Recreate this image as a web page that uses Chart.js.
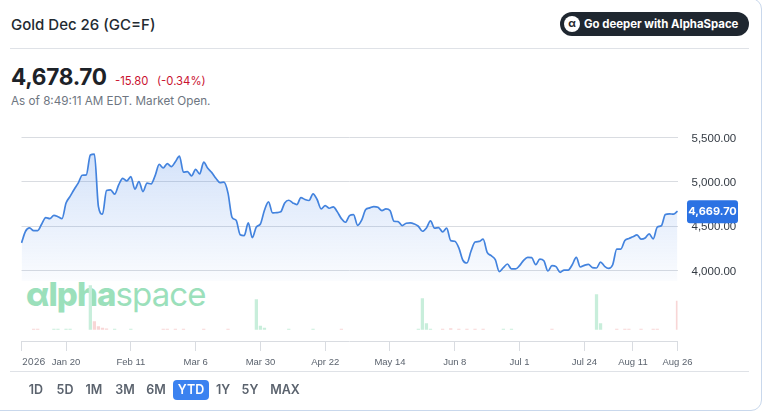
<!DOCTYPE html>
<html>
<head>
<meta charset="utf-8">
<title>Gold Dec 26 (GC=F)</title>
<script src="https://cdn.jsdelivr.net/npm/chart.js@4"></script>
<style>
  html, body { margin: 0; padding: 0; background: #fff; }
  body { width: 763px; height: 412px; overflow: hidden; position: relative; font-family: Inter, "Liberation Sans", sans-serif; }
  .card { position: absolute; left: -12px; top: -2px; width: 772px; height: 411px; border: 1px solid #c9d8ec; border-radius: 11px; }
  .abs { position: absolute; white-space: nowrap; }
  .rule { position: absolute; left: 10px; width: 739px; height: 1px; background: #dfe2e7; }
  #title { left: 11px; top: 15px; font-size: 15px; line-height: 20px; font-weight: 500; color: #232a31; }
  #price { left: 11px; top: 62px; font-size: 22.6px; line-height: 30px; font-weight: 700; color: #1d2228; letter-spacing: -0.3px; }
  .chg { top: 73px; font-size: 11.3px; line-height: 16px; color: #c9102f; }
  #asof { left: 11px; top: 94px; font-size: 11.7px; line-height: 15px; color: #6e7681; }
  #deeper { left: 560px; top: 12px; width: 189px; height: 24px; background: #1f2730; border-radius: 12px; }
  #alpha { left: 4px; top: 4px; width: 16px; height: 16px; border-radius: 8px; background: #fff; color: #1f2730; font-size: 11px; line-height: 15px; text-align: center; font-weight: 700; }
  #deeperText { left: 24px; top: 4px; font-size: 11.4px; line-height: 16px; font-weight: 700; color: #fff; }
  #mark { left: 26px; top: 270px; font-size: 33px; line-height: 48px; color: #9be0bb; font-weight: 400; letter-spacing: -0.9px; }
  #mark b { font-weight: 800; }
  canvas { position: absolute; left: 0; top: 0; }
  .range { top: 382px; font-size: 12.5px; line-height: 16px; font-weight: 600; color: #5b636e; transform: translateX(-50%); }
  #ytdBox { left: 173px; top: 380px; width: 36px; height: 20px; background: #3b82f0; border-radius: 4px; }
</style>
</head>
<body>
<div class="card"></div>
<div class="abs" id="title">Gold Dec 26 (GC=F)</div>
<div class="abs" id="deeper">
  <div class="abs" id="alpha">α</div>
  <div class="abs" id="deeperText">Go deeper with AlphaSpace</div>
</div>
<div class="rule" style="top:48px"></div>
<div class="abs" id="price">4,678.70</div>
<div class="abs chg" style="left:115px">-15.80</div>
<div class="abs chg" style="left:157px">(-0.34%)</div>
<div class="abs" id="asof">As of 8:49:11 AM EDT. Market Open.</div>
<div class="abs" id="mark"><b>αlpha</b>space</div>
<canvas id="chart" width="763" height="412"></canvas>
<div class="rule" style="top:371px"></div>
<div class="abs" id="ytdBox"></div>
<div class="abs range" style="left:36px">1D</div>
<div class="abs range" style="left:65px">5D</div>
<div class="abs range" style="left:94px">1M</div>
<div class="abs range" style="left:125px">3M</div>
<div class="abs range" style="left:156px">6M</div>
<div class="abs range" style="left:191px;color:#fff">YTD</div>
<div class="abs range" style="left:223px">1Y</div>
<div class="abs range" style="left:250px">5Y</div>
<div class="abs range" style="left:285px">MAX</div>

<script>
// closing prices, one per trading day
const prices = [
  4313, 4444, 4481, 4451, 4451, 4526, 4597, 4586, 4623, 4608,
  4586, 4761, 4836, 4914, 4985, 5074, 5078, 5302, 5313, 4720,
  4635, 4903, 4910, 4862, 4966, 5040, 5011, 5059, 4918, 5003,
  4891, 4985, 4977, 5070, 5197, 5156, 5205, 5171, 5227, 5290,
  5108, 5115, 5067, 5141, 5089, 5223, 5153, 5104, 5041, 4992,
  4996, 4873, 4600, 4567, 4405, 4395, 4538, 4372, 4493, 4526,
  4681, 4775, 4650, 4654, 4662, 4763, 4793, 4763, 4744, 4823,
  4801, 4790, 4865, 4801, 4696, 4733, 4703, 4718, 4662, 4586,
  4545, 4620, 4632, 4511, 4568, 4688, 4707, 4722, 4714, 4677,
  4696, 4677, 4556, 4553, 4508, 4534, 4538, 4526, 4500, 4444,
  4481, 4560, 4478, 4485, 4436, 4478, 4338, 4331, 4256, 4117,
  4086, 4218, 4322, 4329, 4355, 4206, 4168, 4123, 3989, 4034,
  4075, 4019, 4019, 4056, 4116, 4150, 4146, 4067, 4131, 4112,
  3996, 4056, 4045, 3981, 4007, 4007, 4067, 4150, 4041, 4060,
  4071, 4034, 4030, 4097, 4049, 4026, 4067, 4243, 4243, 4340,
  4363, 4381, 4404, 4355, 4367, 4415, 4359, 4490, 4505, 4632,
  4640, 4636, 4669.7
];

// volume in thousand contracts, only the days that show a bar
const volumeDays = [3, 4, 8, 9, 11, 12, 17, 18, 19, 20, 21, 23, 27, 35, 36, 38, 40, 45, 51, 58, 59, 60, 66, 72, 79,
  98, 99, 100, 101, 104, 106, 108, 110, 112, 114, 119, 121, 131, 142, 143, 147, 149, 150, 153, 156, 157, 162];
const volumeValues = [0.4, 0.4, 0.4, 0.4, 0.4, 0.4, 44, 8, 3, 1.5, 0.6, 0.4, 0.4, 0.4, 0.4, 0.4, 0.4, 0.4, 0.4, 30, 3.5, 1.5, 0.4, 0.4, 0.4,
  0.4, 31, 6, 0.4, 0.4, 1, 0.4, 0.4, 0.4, 0.4, 0.4, 0.4, 0.4, 35, 6, 0.4, 0.4, 0.4, 0.4, 0.4, 0.4, 28.5];
const volumeDownDays = [3, 4, 18, 19, 20, 21, 35, 36, 38, 40, 45, 51, 79, 104, 106, 108, 110, 112, 114, 131, 147, 149, 150, 153, 156, 157, 162];

const tickDays = [0, 11, 27, 43, 59, 75, 91, 107, 123, 139, 151, 162];
const tickLabels = ['2026', 'Jan 20', 'Feb 11', 'Mar 6', 'Mar 30', 'Apr 22', 'May 14', 'Jun 8', 'Jul 1', 'Jul 24', 'Aug 11', 'Aug 26'];
const priceTicks = [4000, 4500, 5000, 5500];

const priceFloor = 3885;   // the area stops here, above the volume bars
const lastPrice = prices[prices.length - 1];

const labels = prices.map((p, i) => {
  const k = tickDays.indexOf(i);
  return k >= 0 ? tickLabels[k] : '';
});

const volumes = prices.map(() => null);
volumeDays.forEach((d, i) => { volumes[d] = volumeValues[i]; });
const volumeColors = prices.map((p, i) => volumeDownDays.includes(i) ? '#f8d6d6' : '#c8eedb');

// first label sits right of its tick, and the price tag on the right
const extras = {
  id: 'extras',
  afterDraw(chart) {
    const { ctx, scales } = chart;
    ctx.save();
    ctx.font = '9.5px Inter, "Liberation Sans", sans-serif';
    ctx.fillStyle = '#5b636e';
    ctx.textAlign = 'left';
    ctx.textBaseline = 'middle';
    ctx.fillText(tickLabels[0], scales.x.getPixelForValue(0) + 0.5, 362.5);

    const y = scales.y.getPixelForValue(lastPrice);
    ctx.fillStyle = '#2b72e3';
    ctx.beginPath();
    ctx.roundRect(687, y - 11, 51, 23, 3);
    ctx.fill();
    ctx.font = 'bold 11px Inter, "Liberation Sans", sans-serif';
    ctx.fillStyle = '#fff';
    ctx.textAlign = 'center';
    ctx.fillText(lastPrice.toLocaleString('en-US', { minimumFractionDigits: 2 }), 712.5, y + 1);
    ctx.restore();
  }
};

new Chart(document.getElementById('chart'), {
  data: {
    labels: labels,
    datasets: [
      {
        type: 'line',
        data: prices,
        yAxisID: 'y',
        order: 1,
        borderColor: '#4383de',
        borderWidth: 1.7,
        pointRadius: 0,
        cubicInterpolationMode: 'monotone',
        fill: { value: priceFloor },
        backgroundColor(c) {
          const { ctx, chartArea, scales } = c.chart;
          if (!chartArea) return 'transparent';
          const g = ctx.createLinearGradient(0, scales.y.getPixelForValue(5300), 0, scales.y.getPixelForValue(priceFloor));
          g.addColorStop(0, 'rgba(43,114,227,0.2)');
          g.addColorStop(1, 'rgba(43,114,227,0.025)');
          return g;
        }
      },
      {
        type: 'bar',
        data: volumes,
        yAxisID: 'volume',
        order: 2,
        backgroundColor: volumeColors,
        barThickness: 2.6
      }
    ]
  },
  options: {
    responsive: false,
    animation: false,
    events: [],
    layout: { padding: { left: 21.5, top: 137, right: 0, bottom: 0 } },
    plugins: { legend: { display: false }, tooltip: { enabled: false } },
    scales: {
      x: {
        offset: false,
        grid: { offset: false, drawOnChartArea: false, color: '#d9dce1', tickLength: 10 },
        border: { color: '#d9dce1' },
        ticks: {
          autoSkip: false,
          maxRotation: 0,
          padding: 6,
          color: '#5b636e',
          font: { size: 9.5 },
          callback(v) { return v === 0 ? '' : this.getLabelForValue(v); }
        },
        afterBuildTicks(axis) { axis.ticks = tickDays.map(d => ({ value: d })); },
        afterFit(axis) { axis.height = 71; }
      },
      y: {
        position: 'right',
        min: 3208,
        max: 5505,
        grid: { color: '#d9dce1', drawTicks: false },
        border: { display: false },
        ticks: { padding: 14, labelOffset: 1, color: '#333a43', font: { size: 11.5 }, callback: v => v.toLocaleString('en-US', { minimumFractionDigits: 2 }) },
        afterBuildTicks(axis) { axis.ticks = priceTicks.map(v => ({ value: v })); },
        afterFit(axis) { axis.width = 85.5; }
      },
      volume: {
        display: false,
        min: -11.5,
        max: 192.5
      }
    }
  },
  plugins: [extras]
});
</script>
</body>
</html>
